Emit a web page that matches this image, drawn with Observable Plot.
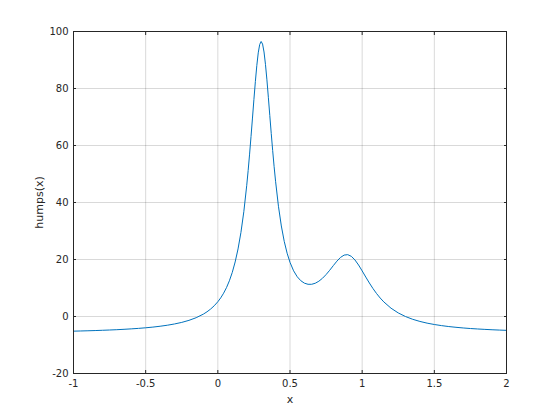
<!DOCTYPE html>
<html>
<head>
<meta charset="utf-8">
<script src="https://cdn.jsdelivr.net/npm/d3@7"></script>
<script src="https://cdn.jsdelivr.net/npm/@observablehq/plot@0.6"></script>
<style>
  html, body { margin: 0; padding: 0; background: #fff; }
  #chart svg { display: block; }
  #chart g[aria-label="x-axis label"], #chart g[aria-label="y-axis label"] { font-size: 11px; }
</style>
</head>
<body>
<div id="chart"></div>
<script>
// Sample points
const xs = [-1, -0.95, -0.9, -0.85, -0.8, -0.75, -0.7, -0.65, -0.6, -0.55, -0.5, -0.45, -0.4, -0.35, -0.3, -0.25, -0.2, -0.15, -0.1, -0.075, -0.05, -0.025,
  0, 0.02, 0.04, 0.06, 0.08, 0.1, 0.12, 0.14, 0.16, 0.18, 0.2, 0.21, 0.22, 0.23, 0.24, 0.25, 0.26, 0.27, 0.28, 0.29, 0.3, 0.31, 0.32, 0.33, 0.34, 0.35, 0.36, 0.37, 0.38, 0.39, 0.4, 0.42, 0.44, 0.46, 0.48, 0.5,
  0.525, 0.55, 0.575, 0.6, 0.625, 0.65, 0.675, 0.7, 0.725, 0.75, 0.775, 0.8, 0.825, 0.85, 0.875, 0.9, 0.925, 0.95, 0.975, 1, 1.025, 1.05, 1.075, 1.1, 1.125, 1.15,
  1.2, 1.25, 1.3, 1.35, 1.4, 1.45, 1.5, 1.55, 1.6, 1.65, 1.7, 1.75, 1.8, 1.85, 1.9, 1.95, 2];
const ys = [-5.14, -5.08, -5.01, -4.93, -4.84, -4.74, -4.63, -4.49, -4.34, -4.17, -3.96, -3.72, -3.42, -3.06, -2.62, -2.07, -1.35, -0.42, 0.84, 1.65, 2.61, 3.77,
  5.18, 6.54, 8.17, 10.13, 12.53, 15.47, 19.13, 23.71, 29.49, 36.77, 45.89, 51.19, 56.97, 63.16, 69.63, 76.16, 82.43, 88.03, 92.51, 95.44, 96.5, 95.59, 92.81, 88.48, 83.04, 76.92, 70.55, 64.23, 58.2, 52.58, 47.45, 38.68, 31.76, 26.37, 22.21, 19.0,
  16.03, 13.95, 12.55, 11.69, 11.3, 11.3, 11.67, 12.38, 13.41, 14.71, 16.22, 17.85, 19.42, 20.73, 21.55, 21.7, 21.11, 19.84, 18.07, 16.0, 13.84, 11.75, 9.8, 8.04, 6.48, 5.12,
  2.91, 1.25, -0.01, -0.98, -1.73, -2.33, -2.81, -3.2, -3.53, -3.79, -4.02, -4.22, -4.38, -4.52, -4.65, -4.76, -4.86];
const xTicks = [-1, -0.5, 0, 0.5, 1, 1.5, 2];
const yTicks = [-20, 0, 20, 40, 60, 80, 100];
const xLabel = "x";
const yLabel = "humps(x)";

const data = xs.map((x, i) => ({x, y: ys[i]}));
const fmt = d => String(d);
const ink = "#262626";

const chart = Plot.plot({
  width: 560,
  height: 420,
  marginLeft: 73,
  marginRight: 54,
  marginTop: 31,
  marginBottom: 47,
  style: {fontFamily: "DejaVu Sans, sans-serif", fontSize: "10px", color: ink, background: "#fff"},
  x: {domain: [-1, 2]},
  y: {domain: [-20, 100]},
  marks: [
    Plot.gridX(xTicks, {stroke: "#000", strokeOpacity: 0.15}),
    Plot.gridY(yTicks, {stroke: "#000", strokeOpacity: 0.15}),
    Plot.line(data, {x: "x", y: "y", stroke: "#0072BD", strokeWidth: 1}),
    Plot.frame({stroke: ink, strokeWidth: 1}),
    Plot.axisX(xTicks, {anchor: "bottom", tickSize: -3, tickPadding: 9, tickFormat: fmt, stroke: ink, fill: ink, label: xLabel, labelAnchor: "center", labelArrow: "none", labelOffset: 29}),
    Plot.axisX(xTicks, {anchor: "top", tickSize: -3, text: null, label: null, stroke: ink}),
    Plot.axisY(yTicks, {anchor: "left", tickSize: -3, tickPadding: 8, tickFormat: fmt, stroke: ink, fill: ink, label: yLabel, labelAnchor: "center", labelArrow: "none", labelOffset: 38}),
    Plot.axisY(yTicks, {anchor: "right", tickSize: -3, text: null, label: null, stroke: ink})
  ]
});
document.getElementById("chart").appendChild(chart);
</script>
</body>
</html>
